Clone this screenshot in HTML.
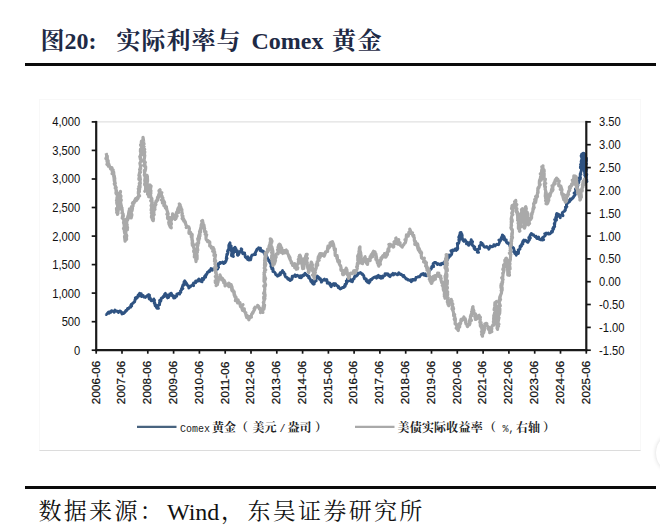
<!DOCTYPE html>
<html lang="zh-CN">
<head>
<meta charset="utf-8">
<title>图20: 实际利率与 Comex 黄金</title>
<style>
html,body{margin:0;padding:0;background:#fff;}
body{width:660px;height:526px;position:relative;overflow:hidden;font-family:"Liberation Serif","Noto Serif CJK SC",serif;}
.title{position:absolute;left:0;top:25.5px;font-size:24px;line-height:30px;font-weight:bold;color:#1e2a45;white-space:nowrap;}
.title span{position:absolute;top:0;}
.rule{position:absolute;left:25px;width:631px;height:2px;background:#0a0a0a;}
.r1{top:63px;height:2.6px;}
.r2{top:486px;height:2.6px;}
.frame{position:absolute;left:39px;top:99px;width:602px;height:352px;border:1px solid #f8f8f8;border-bottom-color:#dcdcdc;box-sizing:border-box;}
svg{position:absolute;left:0;top:0;}
.leg{position:absolute;left:0;top:421px;font-size:12px;line-height:17px;font-weight:700;color:#222;white-space:nowrap;font-family:"Liberation Mono","Noto Serif CJK SC",serif;}
.leg span{position:absolute;top:0;}
.leg .m{font-family:"Liberation Mono",monospace;font-size:10px;font-weight:normal;}
.src{position:absolute;left:0;top:496.3px;font-size:23px;line-height:32px;color:#111;white-space:nowrap;}
.src span{position:absolute;top:0;}
.src .c{letter-spacing:2.3px;}
.knob{position:absolute;left:656px;top:433px;width:40px;height:40px;border-radius:50%;background:#fff;box-shadow:0 0 4px rgba(0,0,0,.16);}
</style>
</head>
<body>
<div class="title"><span style="left:40.5px">图20:</span><span style="left:116.5px;letter-spacing:1px">实际利率与</span><span style="left:251.5px">Comex</span><span style="left:332px;letter-spacing:1.5px">黄金</span></div>
<div class="rule r1"></div>
<div class="frame"></div>
<svg width="660" height="526" viewBox="0 0 660 526">
<line x1="96.2" y1="121.9" x2="586.3" y2="121.9" stroke="#d9d9d9" stroke-width="1"/>
<polyline fill="none" stroke="#2f5382" stroke-width="2.9" stroke-linejoin="round" points="106.2,314.2 106.3,314.6 108.6,312.0 109.2,313.3 110.0,311.8 110.9,312.2 111.5,310.7 112.5,311.1 114.2,311.8 114.2,312.4 114.6,311.1 115.0,310.0 116.3,311.2 117.5,311.1 118.4,312.6 118.7,312.0 119.7,310.9 120.9,311.5 122.0,314.0 122.5,312.7 123.7,313.4 124.7,312.4 125.2,311.9 126.2,310.2 125.5,311.2 127.2,310.0 127.5,308.7 128.1,308.2 128.8,308.6 129.1,307.7 130.7,307.2 130.7,305.5 131.7,306.1 131.4,304.3 132.5,303.6 132.4,303.5 133.0,303.2 133.6,302.5 134.7,301.8 134.9,299.9 135.5,299.5 135.3,297.8 136.2,297.5 137.1,298.0 138.1,295.1 138.9,296.2 139.2,294.2 139.7,293.2 140.0,293.5 141.3,293.7 141.3,294.0 141.4,296.5 143.2,295.5 143.5,296.7 143.8,297.0 144.0,296.7 144.7,297.1 145.4,297.4 146.2,296.4 148.5,294.8 148.8,294.6 149.5,295.1 148.6,296.5 149.2,299.0 149.9,297.4 151.0,299.8 150.6,299.4 151.2,300.8 152.4,300.5 153.2,300.6 153.8,300.0 153.8,299.0 153.5,299.5 154.0,300.8 154.5,300.2 154.2,303.1 154.9,303.1 154.7,303.8 155.2,305.8 155.8,305.7 156.3,305.0 155.7,306.1 156.1,306.7 157.0,308.3 157.4,308.3 158.5,308.4 157.6,307.7 158.1,305.5 159.1,305.1 159.6,304.8 159.5,302.6 160.0,302.5 159.6,300.4 160.2,300.7 160.9,300.7 161.2,298.3 161.8,297.8 162.7,297.8 163.4,296.4 164.4,295.4 164.5,296.5 164.6,294.4 165.0,293.8 165.4,293.3 165.4,295.3 167.0,294.9 167.0,296.4 167.5,297.9 167.7,297.2 168.5,297.5 169.7,294.4 169.7,294.0 170.9,295.3 171.2,293.2 171.7,294.2 172.0,295.0 172.4,295.9 173.5,295.7 173.6,298.0 175.0,297.8 175.8,296.1 176.2,296.0 176.7,296.3 176.8,294.0 178.8,293.3 179.6,294.1 178.5,293.6 180.0,292.7 180.8,292.4 180.5,290.9 181.6,290.0 181.5,288.7 182.6,288.4 182.9,288.5 182.1,287.7 182.8,285.4 183.1,284.6 184.3,284.9 184.5,283.9 184.0,281.8 184.0,283.3 185.0,281.2 184.7,280.9 186.8,283.8 185.7,284.0 186.4,283.8 187.7,285.6 187.9,285.8 188.4,285.7 188.8,288.0 188.8,287.7 190.6,286.5 191.7,285.4 192.1,285.4 192.5,284.9 193.6,285.7 193.1,283.9 193.5,283.0 195.7,282.7 195.6,281.0 196.1,281.2 197.7,281.2 197.5,280.5 197.8,280.6 198.8,279.0 199.8,279.8 199.5,280.9 200.4,280.9 201.2,281.4 202.0,281.8 202.2,278.5 203.5,279.6 203.9,278.7 204.7,276.3 204.6,277.5 205.6,277.2 206.0,274.4 205.4,275.4 206.6,274.6 207.5,272.4 207.5,272.1 208.1,272.3 209.0,270.8 209.1,270.8 209.6,271.6 211.0,268.5 212.1,270.2 212.5,269.0 213.8,269.0 214.0,268.9 214.5,269.7 216.2,269.6 216.1,269.8 217.6,269.0 217.8,267.3 218.6,267.4 217.7,264.9 218.7,264.7 218.3,263.6 220.4,263.5 220.0,262.4 220.6,262.6 222.3,262.4 222.8,262.0 223.4,262.5 223.4,263.6 225.0,262.8 225.5,261.2 225.8,261.6 226.4,259.7 226.2,258.1 226.3,258.1 227.0,258.4 226.4,257.0 226.9,255.1 226.8,254.3 226.8,255.4 227.5,254.2 228.0,252.4 227.4,251.1 227.8,250.6 228.2,249.6 229.5,249.9 229.2,247.8 228.8,248.2 228.8,245.1 229.8,244.4 229.4,244.0 229.3,244.2 230.0,242.8 230.0,243.7 230.0,245.1 231.2,246.1 231.0,245.9 231.2,248.0 231.6,248.3 231.6,249.6 230.9,250.6 231.7,250.6 231.4,250.7 232.5,251.1 231.8,252.4 231.5,254.7 231.5,255.7 232.1,254.2 232.5,256.1 233.4,256.5 232.9,255.2 232.8,253.7 233.3,253.6 234.0,251.3 233.7,250.1 233.5,251.2 234.0,248.3 234.6,247.7 235.0,247.2 234.9,247.9 235.9,248.5 235.8,249.6 235.5,251.5 237.3,250.7 237.5,252.3 237.4,252.4 237.4,255.1 238.0,255.3 238.2,254.5 238.6,254.7 239.4,252.6 240.2,251.4 240.2,251.3 241.3,250.4 241.5,250.8 241.2,248.7 241.8,249.3 241.5,249.1 242.0,252.4 243.4,253.0 242.8,253.7 244.6,252.9 243.8,252.9 245.0,254.8 244.9,254.9 245.3,256.9 246.9,258.4 247.9,256.7 247.6,257.9 247.6,259.4 248.8,260.0 248.8,258.2 250.6,259.8 251.0,258.2 250.6,258.5 251.2,256.9 251.8,255.3 252.3,254.9 253.8,254.7 254.5,253.9 255.5,254.4 255.3,253.3 255.1,253.1 256.8,250.2 256.2,250.8 256.9,249.4 257.6,248.8 258.8,248.0 258.8,247.8 259.3,248.3 260.5,248.2 260.1,250.6 261.6,250.5 261.0,251.0 262.0,251.4 263.3,251.1 263.8,252.7 264.7,253.5 264.8,254.5 265.8,253.5 266.5,256.2 265.6,256.3 266.3,256.0 267.5,257.6 267.4,258.4 269.2,260.4 268.7,261.0 268.6,260.3 269.9,262.5 270.7,261.9 270.3,263.5 271.2,263.9 271.2,265.0 270.9,266.3 271.6,267.3 271.8,268.7 272.7,268.1 273.1,269.2 272.9,271.5 273.8,271.5 274.8,272.5 274.7,272.5 275.3,273.0 275.3,273.5 275.9,274.8 277.1,275.5 277.5,276.1 278.3,274.8 278.3,275.9 279.7,274.7 280.3,274.8 280.1,272.6 280.9,273.4 282.5,270.6 282.5,270.9 282.6,271.5 283.8,272.2 283.8,273.2 285.0,274.2 285.0,273.9 284.7,275.0 285.6,277.0 286.2,277.0 287.7,278.2 287.7,278.9 289.2,279.8 288.9,278.6 290.0,280.5 290.1,280.5 291.9,279.3 292.2,278.4 292.0,277.6 292.3,276.1 293.1,276.7 294.2,275.9 295.0,274.9 295.7,276.6 296.6,275.6 297.2,275.3 299.1,276.5 300.3,275.7 299.6,277.6 301.2,277.7 301.9,276.6 302.5,275.2 303.6,275.7 304.1,275.2 303.9,275.0 305.0,273.3 305.0,274.3 305.9,274.1 307.1,275.7 308.3,276.6 308.2,275.8 309.1,276.4 308.7,278.0 310.0,278.6 310.5,279.9 310.8,281.3 312.4,280.5 311.4,281.9 312.4,283.1 313.5,284.2 313.8,284.1 314.2,283.9 313.7,283.3 315.6,280.8 315.7,279.1 316.2,280.9 315.5,279.7 316.9,278.0 316.9,276.9 317.5,276.6 317.2,276.1 319.4,277.9 319.4,279.2 320.4,278.6 319.7,278.6 321.4,281.3 321.2,281.1 321.4,282.1 322.1,281.1 323.2,279.9 324.4,279.1 325.0,280.2 326.2,280.2 326.8,279.5 327.2,281.5 327.2,283.2 328.4,282.6 329.9,283.1 329.6,284.4 330.0,284.7 331.2,286.7 331.2,286.4 332.2,284.9 332.5,284.3 333.9,283.5 334.5,285.5 335.0,283.8 335.5,283.7 336.1,284.9 336.4,285.0 338.3,286.9 338.3,287.7 338.4,286.3 340.2,289.0 340.0,288.8 341.3,288.6 342.3,287.5 343.4,287.5 343.8,287.5 344.2,287.1 344.4,286.0 345.2,286.3 345.1,284.1 345.9,284.6 346.6,283.1 346.3,280.9 346.4,281.5 347.7,281.5 347.4,279.3 347.5,279.0 348.0,279.8 348.7,280.5 350.0,279.3 350.3,281.1 351.2,281.2 352.3,281.8 353.1,279.6 352.7,279.3 353.9,278.8 354.2,278.7 354.3,277.4 355.0,275.8 355.0,275.6 356.2,276.3 357.6,274.9 358.5,273.3 357.8,273.1 359.1,273.3 360.0,272.9 359.9,273.0 360.4,272.5 362.3,274.4 362.2,273.8 363.8,275.6 363.8,276.7 364.5,278.0 364.2,278.0 364.6,278.9 366.2,278.9 366.5,280.3 366.2,280.8 367.2,281.7 367.5,282.2 369.1,282.9 368.5,280.6 370.0,281.7 370.5,279.6 371.7,279.1 371.8,279.5 372.5,278.4 373.3,278.1 373.6,277.6 375.4,276.7 376.5,278.2 377.2,277.0 377.5,275.9 378.7,275.7 378.4,275.4 379.5,277.6 380.6,276.3 380.8,278.2 382.5,277.9 383.1,276.2 382.8,275.9 383.4,276.4 385.2,275.3 385.0,273.7 385.0,275.4 386.6,273.7 388.1,273.9 388.9,275.5 388.3,275.3 390.0,276.7 390.7,275.1 391.8,274.4 392.0,274.9 393.0,273.4 393.5,274.9 395.0,273.5 396.1,274.1 397.0,274.5 397.1,274.7 397.7,274.8 398.8,272.8 400.4,274.5 401.2,274.2 402.7,275.6 402.2,275.3 403.5,276.8 403.8,275.5 403.5,275.6 405.4,277.9 406.1,279.1 406.2,278.4 407.9,279.8 407.9,280.0 408.0,279.5 410.4,280.7 411.0,279.8 411.2,281.7 412.7,280.4 412.5,279.4 414.3,280.0 413.6,279.5 415.3,280.0 415.5,279.2 416.0,277.5 417.5,277.2 418.1,276.8 419.5,276.8 420.4,275.5 420.1,275.8 421.9,274.0 421.0,274.7 422.5,273.9 423.2,273.6 423.7,274.9 425.1,273.8 425.1,275.6 427.1,275.7 427.5,274.7 428.2,274.6 428.5,274.0 428.9,272.2 429.3,271.2 429.1,270.8 430.0,269.6 430.9,269.3 431.2,269.0 431.8,267.3 431.7,266.8 433.5,265.5 433.7,266.7 433.0,264.0 433.7,263.0 433.6,263.1 435.0,262.4 436.4,263.4 435.8,262.5 437.3,264.5 437.7,263.7 438.7,264.0 440.0,264.7 440.7,263.8 441.1,264.7 442.1,263.2 443.3,263.7 443.0,263.6 443.9,262.6 445.0,261.3 445.8,260.7 445.5,259.5 447.6,258.1 447.4,259.8 448.7,257.1 448.8,257.5 449.4,256.6 449.1,254.9 450.4,255.8 450.3,255.4 451.5,254.6 452.0,252.5 450.9,250.8 451.4,251.7 452.5,250.0 453.8,250.6 454.9,249.3 455.4,248.8 456.2,250.4 456.2,249.3 457.2,249.6 457.8,248.3 457.5,247.8 457.6,246.7 457.5,244.4 457.3,243.5 458.3,243.6 458.8,242.9 459.4,240.4 458.8,239.9 460.1,239.2 459.3,239.2 458.7,237.1 460.6,236.7 460.2,236.0 459.2,236.2 460.0,233.9 460.1,232.7 460.5,232.7 461.1,232.4 461.3,233.6 461.9,234.2 462.2,235.6 462.0,237.9 461.9,236.3 462.7,239.6 462.7,239.8 463.0,240.5 464.0,241.4 463.9,240.9 464.9,239.7 466.2,241.5 467.2,242.9 466.4,243.8 467.3,242.3 468.4,243.0 468.8,245.4 468.5,245.2 469.9,243.8 469.8,242.9 471.1,241.0 471.2,241.9 471.2,240.0 471.2,239.6 471.5,240.9 472.6,241.6 472.0,243.6 472.1,245.0 473.4,246.0 473.2,245.9 474.7,246.9 473.7,246.4 474.2,248.7 475.0,248.3 474.9,249.5 475.6,249.5 477.1,249.9 477.3,251.9 477.5,252.3 478.6,252.4 477.3,252.1 477.7,249.5 479.0,249.1 478.8,248.6 479.6,248.7 479.6,248.0 479.3,246.2 480.6,245.1 480.8,243.5 480.9,242.4 481.2,242.6 481.2,243.2 482.1,243.1 482.7,245.0 483.1,244.6 483.3,245.6 484.4,247.0 485.0,247.3 486.7,246.5 486.2,246.9 488.3,247.9 488.8,249.2 488.9,248.9 489.3,248.6 490.2,246.1 491.8,246.8 493.1,246.4 493.5,246.2 493.8,244.7 495.3,245.9 494.7,245.4 496.3,244.9 496.7,244.3 498.5,244.7 498.8,244.0 499.5,242.4 499.8,241.1 498.9,240.1 500.4,239.5 500.4,241.0 501.0,239.4 502.0,239.1 501.2,238.2 502.5,235.5 502.6,235.2 502.5,235.4 502.4,235.0 504.0,236.5 504.6,238.4 504.4,237.7 504.4,240.1 505.0,240.1 506.3,239.9 506.2,241.1 506.5,242.3 507.4,243.3 508.5,242.9 508.8,243.9 510.0,244.9 509.8,245.8 511.3,246.0 511.5,245.1 511.7,246.9 512.5,247.1 513.4,247.8 514.2,250.2 514.4,250.7 513.6,251.7 515.2,252.2 514.6,253.2 515.2,253.9 516.2,254.0 516.2,255.2 517.0,253.3 516.7,252.3 518.4,253.5 518.6,251.2 518.6,250.3 518.3,249.9 519.6,249.4 520.0,249.1 520.0,246.9 520.2,245.9 521.6,245.8 520.9,246.7 521.7,244.7 522.9,244.0 521.6,244.4 522.8,242.1 523.1,242.0 522.7,241.6 523.8,240.0 523.9,241.4 525.5,240.2 526.1,240.6 526.2,241.0 527.5,242.3 528.0,242.4 528.4,241.2 529.4,239.8 529.1,239.6 528.8,237.4 530.4,238.0 529.1,237.5 529.7,236.9 530.0,235.6 531.4,233.4 531.2,233.7 532.4,234.5 532.6,235.0 533.6,234.8 533.8,235.1 535.0,236.6 536.1,236.3 536.4,237.7 536.9,238.5 538.6,237.0 538.8,239.0 540.4,239.7 540.5,239.1 542.2,240.0 542.5,239.8 543.7,239.8 542.5,237.7 544.0,236.6 545.0,235.9 545.3,234.8 545.8,234.6 544.7,233.7 545.5,233.8 546.2,233.0 546.7,233.7 548.2,233.1 548.6,234.1 550.0,233.8 550.8,233.0 551.1,232.4 551.6,231.2 552.4,232.0 553.0,229.6 553.7,228.8 552.7,228.7 553.6,227.1 553.5,227.3 554.7,226.6 554.3,223.4 554.8,223.9 554.2,223.9 555.0,222.3 555.8,219.8 554.6,219.6 556.5,220.1 556.4,218.9 555.7,217.3 556.9,217.1 556.3,215.2 556.4,214.3 557.0,214.4 556.8,213.4 558.8,214.6 559.4,216.3 560.3,217.4 560.3,217.7 560.0,215.6 560.5,215.8 561.3,214.8 563.0,215.8 562.5,214.2 562.3,212.7 562.9,212.1 564.0,211.4 564.2,211.4 565.3,210.2 565.0,209.9 566.2,207.3 565.4,207.1 566.9,206.7 566.4,206.6 566.5,203.9 566.8,203.1 567.7,203.2 567.5,202.5 568.4,200.5 569.3,202.1 570.2,200.6 570.3,199.0 570.7,200.2 572.1,198.5 573.1,197.4 572.8,198.1 573.9,196.4 574.1,195.7 574.9,195.2 575.5,193.5 574.1,193.0 575.3,192.0 576.2,190.5 575.8,190.7 575.4,189.0 576.5,188.1 576.9,188.3 577.3,185.7 577.4,186.6 578.0,185.2 577.6,184.8 577.8,183.7 578.7,182.7 578.9,182.3 578.9,180.5 579.1,179.4 579.3,178.0 580.3,179.1 580.5,177.6 580.1,176.5 580.3,174.6 580.1,174.6 580.9,174.4 580.2,174.1 580.8,172.5 580.9,171.9 581.4,170.4 581.4,168.4 580.4,167.8 581.0,168.2 580.4,166.5 581.3,165.5 580.6,164.5 580.9,164.7 581.3,162.9 582.1,162.8 581.1,161.7 581.7,159.5 582.1,159.2 582.1,157.9 581.4,157.3 582.3,155.9 582.0,155.9 581.1,155.8 582.0,154.0 581.6,154.4 581.6,156.6 582.0,156.4 581.9,156.6 582.3,157.1 583.2,159.6 582.0,161.3 581.7,162.2 582.5,161.0 582.7,163.2 582.4,162.4 582.4,164.5 583.1,166.1 582.6,165.2 583.3,167.6 582.8,168.2 583.3,168.3 583.5,165.9 583.1,165.6 583.4,164.6 582.9,164.0 582.9,163.3 583.9,162.2 582.5,160.8 582.7,160.8 582.4,158.1 583.1,157.8 582.7,157.9 583.9,155.8 583.3,154.0 583.9,153.4 583.5,153.2 582.8,153.4 583.9,154.4 582.8,155.1 582.8,156.3 584.1,158.4 583.4,158.8 584.1,158.4 583.9,159.8 583.3,162.6 583.7,162.7 583.7,163.2 583.9,164.6 584.5,163.7 583.7,165.1 584.2,166.6 583.3,168.2 584.3,168.2 583.6,169.3 585.0,171.0 584.2,171.5 584.2,171.6 584.7,171.0 584.2,169.7 584.0,169.1 584.0,168.6 585.0,168.5 583.6,166.0 585.0,164.3 583.8,164.5 585.0,162.6 585.3,162.1 584.8,161.6 584.9,160.6 584.2,159.2 583.9,158.2 585.6,158.4 585.4,156.1 584.1,155.9 584.5,154.3 584.8,154.2 584.7,155.5 585.5,155.5 585.3,157.5 585.3,157.5 585.4,159.6 585.7,159.1 584.2,160.7 584.6,162.8 584.4,163.7 585.0,162.4 585.3,164.5 584.8,165.7 585.0,166.9 585.2,166.2 585.1,167.6 584.6,168.0 585.4,169.1 584.9,169.4 585.8,171.3 585.2,171.5 585.0,174.1 584.7,175.4 584.8,175.1 585.2,175.8 585.7,174.0 585.9,174.6 584.7,173.2 586.1,172.8 584.9,171.6 586.0,170.7 585.6,170.5 584.6,169.4 584.6,167.0 585.5,166.9 586.1,164.8 586.0,165.3 586.1,165.5 585.9,164.0 586.1,162.6 585.3,162.3 585.1,161.5 586.5,159.9 586.5,158.2 585.8,158.0 585.2,159.5 585.4,158.6 586.5,160.9 585.9,161.7 585.8,162.1 586.5,163.9 586.2,163.8 585.4,164.7 585.7,164.8 585.9,167.2 586.4,167.6 586.2,168.5 586.7,169.7 585.8,170.0 585.5,172.0 585.6,173.0 586.0,172.2 585.6,174.2 586.8,174.3 586.3,175.8 586.0,176.5 585.4,177.0 586.3,179.3 585.8,178.8 585.2,180.4 586.9,181.4 586.0,182.2 585.3,181.0 586.2,180.4 586.7,179.9 585.4,177.9 586.2,178.8 586.3,177.8 586.3,176.9 586.4,175.6 586.6,175.3 586.0,174.5 585.7,171.6 586.3,171.4 586.2,171.1 586.1,171.0 586.3,167.6 586.3,168.0"/>
<polyline fill="none" stroke="#a9a9a9" stroke-width="3.2" stroke-linejoin="round" points="106.2,153.1 106.8,156.2 106.4,154.5 106.8,156.2 105.9,158.6 107.3,156.2 107.3,158.9 106.8,157.9 107.0,161.4 108.2,160.6 106.9,164.4 108.2,161.3 108.3,166.2 108.7,163.8 108.7,163.8 109.6,166.4 110.0,167.0 110.0,167.1 110.6,168.9 112.0,167.7 112.1,170.9 113.2,170.0 112.1,173.8 113.7,172.2 113.8,174.1 113.7,176.5 114.2,176.9 114.2,175.5 114.8,178.9 114.4,178.1 113.9,176.9 114.3,181.1 114.6,179.2 114.9,182.4 114.6,181.9 115.3,183.3 114.7,184.2 115.0,185.0 114.3,183.8 116.2,187.7 115.2,188.1 115.6,187.1 116.2,191.6 116.5,190.5 116.0,190.1 116.3,194.1 115.9,192.9 117.3,194.1 117.1,192.6 117.4,197.1 117.4,197.7 117.0,197.5 116.9,198.7 117.7,197.4 116.5,200.6 117.1,201.2 116.9,201.5 117.4,203.2 117.1,204.4 116.7,202.8 117.4,204.4 117.8,208.3 117.9,208.9 117.9,207.5 116.6,210.2 116.5,208.3 116.9,212.4 117.6,210.5 116.7,212.5 117.5,212.6 117.5,214.4 118.0,213.1 117.4,213.0 116.9,212.2 117.8,210.9 117.3,209.1 118.1,211.4 118.4,207.4 117.4,209.2 117.8,204.8 117.9,207.0 118.9,206.0 118.2,204.4 119.3,205.4 118.4,202.5 118.8,202.2 118.8,200.9 118.4,200.3 120.1,197.9 119.1,199.6 119.2,198.6 120.0,198.0 119.3,194.8 120.5,192.1 120.5,191.4 120.0,193.3 119.5,193.7 121.0,196.0 120.2,196.2 120.0,195.6 120.6,195.8 119.8,197.7 120.8,197.2 120.5,199.0 121.3,200.0 119.8,203.5 120.4,201.3 121.3,205.7 120.3,203.8 121.5,206.2 120.7,208.2 121.4,208.9 122.0,208.1 121.6,207.9 121.2,209.3 122.2,209.5 122.2,210.6 122.5,213.2 121.9,213.1 123.0,213.6 123.4,215.9 122.2,218.1 122.4,217.5 122.5,216.2 124.0,220.7 123.8,220.6 124.0,220.2 123.7,223.1 123.5,223.0 123.6,221.8 124.3,226.3 124.2,227.3 124.8,225.4 123.5,228.7 123.7,228.9 125.2,227.4 124.2,228.0 124.6,233.1 124.2,230.1 125.3,231.6 125.7,231.9 125.9,234.0 124.7,237.3 125.1,235.3 125.5,235.5 124.5,236.2 125.1,241.2 125.5,240.2 125.3,238.9 126.4,236.3 126.6,239.3 125.4,234.7 126.8,236.0 126.4,234.7 125.7,234.3 125.9,232.9 125.6,230.7 127.3,229.9 126.8,229.8 127.4,229.7 126.3,227.7 126.4,226.5 127.6,227.9 126.7,224.6 127.2,224.7 126.7,224.1 126.8,220.6 127.4,219.9 126.6,219.0 127.5,220.2 128.2,218.2 128.5,218.2 128.0,215.8 127.5,217.7 127.8,217.4 129.5,215.8 128.4,215.1 129.0,211.0 128.8,213.7 128.7,212.6 129.5,210.7 129.4,208.8 130.4,213.4 130.7,214.3 130.6,214.4 130.4,212.8 131.1,213.5 130.4,216.6 131.9,214.8 131.2,218.0 131.4,216.8 131.4,217.3 131.3,214.4 130.8,212.9 131.6,213.7 131.1,212.5 131.3,210.7 131.6,208.8 132.0,211.0 132.5,208.2 131.5,206.6 132.5,207.0 132.5,206.7 133.1,206.0 132.8,203.1 132.4,203.3 133.0,202.3 134.4,202.3 133.9,203.3 134.1,201.6 135.6,198.6 136.2,200.7 137.1,197.7 136.7,200.0 138.1,198.3 138.3,196.1 138.5,196.9 138.8,195.6 139.6,195.9 138.3,193.5 138.4,191.2 139.4,191.7 139.3,188.6 138.7,190.6 138.5,188.8 138.3,188.9 139.7,189.1 138.8,186.6 140.1,187.0 139.8,182.7 139.6,184.9 139.3,183.4 140.3,183.5 140.0,180.2 138.9,179.5 138.9,178.2 140.4,179.8 139.8,175.5 139.0,175.8 139.3,174.5 138.9,175.6 139.7,172.2 140.1,170.6 140.5,172.3 139.6,169.6 140.0,170.1 140.2,168.1 140.4,167.1 140.7,168.6 140.3,168.5 140.9,165.5 140.4,165.8 139.9,163.2 140.9,161.1 140.8,160.3 141.3,161.3 141.3,161.3 140.5,157.7 140.2,158.7 140.4,157.5 139.8,156.7 140.6,155.5 140.6,154.0 141.1,155.2 141.1,153.0 140.4,151.6 140.5,149.1 141.7,150.8 141.0,150.9 141.0,150.7 141.0,149.2 142.0,147.9 140.6,145.0 141.2,145.2 141.2,144.3 141.4,141.1 141.7,142.2 142.2,143.3 142.9,141.9 142.4,141.1 142.9,140.2 143.0,139.0 143.0,137.3 143.3,139.0 143.6,141.2 143.7,141.8 143.5,142.5 142.9,141.4 144.1,143.9 142.9,144.1 143.5,146.2 142.8,145.5 144.1,146.6 143.5,147.2 143.0,149.1 144.7,149.3 143.8,151.1 144.2,152.0 143.6,150.8 143.7,154.7 144.8,152.0 144.1,154.9 144.8,155.7 144.7,155.1 144.5,157.9 144.1,159.8 144.1,159.8 144.0,160.5 145.3,162.4 144.1,161.3 145.0,165.0 143.8,165.3 144.9,166.5 144.6,164.8 145.3,167.7 145.0,166.1 145.7,166.9 145.6,169.0 145.1,171.1 145.0,170.0 144.3,170.4 144.7,173.8 144.5,174.9 145.4,175.6 144.3,174.7 145.1,176.0 144.5,175.6 145.3,176.3 144.7,180.9 145.6,178.0 146.1,182.4 145.0,182.4 144.6,184.3 144.6,184.5 145.3,184.1 144.8,184.9 146.0,185.2 145.6,187.1 145.8,186.9 145.6,188.3 145.5,190.7 144.8,191.3 146.3,189.5 145.6,186.6 146.6,186.8 146.6,185.1 145.4,185.8 145.2,185.6 146.5,181.4 146.1,180.1 146.3,179.5 147.2,181.8 145.8,177.4 145.8,180.0 146.0,176.7 146.0,175.0 147.4,176.5 147.0,175.3 147.4,177.4 147.4,176.3 147.5,179.8 146.5,177.5 147.5,181.4 147.6,179.7 147.5,181.6 147.3,180.3 147.1,182.7 147.6,185.7 148.2,185.6 148.2,186.9 147.5,187.8 147.4,189.7 148.7,190.3 147.3,190.9 148.8,188.5 148.0,191.1 147.5,194.2 148.3,193.1 148.3,192.3 149.2,195.7 148.7,193.6 149.2,194.8 148.8,196.8 148.7,194.6 148.7,196.7 149.7,193.2 149.9,195.3 149.2,192.2 149.6,191.0 149.3,190.5 150.6,191.6 149.2,189.8 149.9,189.2 150.5,189.8 150.6,188.3 151.1,186.0 150.5,185.6 149.9,185.0 150.6,186.2 150.4,185.9 149.9,188.9 151.0,190.9 150.4,189.6 150.5,190.6 150.9,193.3 150.3,193.2 150.7,195.8 150.3,194.1 151.1,197.9 151.9,198.5 151.8,199.6 152.0,200.3 150.7,200.7 151.5,200.4 151.9,203.3 151.9,202.9 152.3,202.3 151.4,204.5 152.5,204.6 151.1,205.8 152.1,205.0 152.5,207.7 151.7,206.9 151.1,210.2 152.0,208.4 151.3,210.0 152.3,210.9 151.3,212.9 152.8,211.8 151.6,215.2 151.4,217.1 152.9,215.8 152.0,218.2 152.6,219.9 153.2,220.7 152.5,219.9 152.7,219.9 153.3,220.2 153.5,218.3 152.7,218.7 153.7,214.3 153.4,215.9 153.4,213.8 154.2,214.6 153.0,212.4 153.9,212.7 153.8,208.9 153.4,210.3 154.1,206.9 155.0,209.4 154.8,208.8 154.9,206.2 155.0,205.0 155.9,204.4 155.4,205.3 155.5,203.1 156.1,200.8 156.5,201.2 156.1,202.1 157.8,199.8 157.3,199.4 157.5,197.3 158.6,196.2 158.4,197.6 159.1,196.8 158.4,195.7 159.4,193.2 159.6,191.9 159.2,191.6 159.0,190.6 160.0,189.7 159.4,190.5 160.0,190.4 160.8,194.3 161.8,192.7 161.2,193.5 161.7,196.5 162.1,196.1 162.2,197.2 162.9,198.1 161.5,200.0 162.5,199.3 162.4,202.9 162.9,199.6 164.6,202.4 164.6,202.9 163.8,205.6 165.0,205.2 165.4,208.0 165.3,206.8 166.7,209.5 166.2,206.6 166.7,208.8 166.2,208.3 166.9,209.9 167.9,213.0 167.5,213.0 166.9,214.2 168.2,213.8 168.0,214.2 167.5,217.8 167.7,218.5 169.3,217.3 168.8,217.4 169.6,219.2 168.7,222.6 170.0,221.3 168.9,222.4 169.3,224.2 168.9,223.9 170.3,227.0 171.0,227.6 170.4,225.6 170.5,227.4 171.3,227.8 170.4,224.5 170.8,225.7 170.5,222.3 171.4,223.3 171.4,224.2 170.9,221.7 171.2,220.0 171.4,220.3 171.7,217.3 171.8,217.5 171.6,217.3 172.7,217.6 172.5,215.1 172.6,213.9 173.6,217.5 174.5,218.9 174.2,217.5 173.9,218.4 175.0,219.4 174.5,218.1 175.9,218.5 176.2,217.8 175.6,215.5 177.1,216.1 175.8,214.7 176.6,212.1 176.5,213.8 177.5,212.0 178.7,212.5 178.2,210.1 177.5,210.1 178.0,208.4 179.4,207.2 178.3,208.3 179.8,204.8 179.4,204.1 180.0,204.6 179.3,203.9 180.2,205.2 180.8,209.6 181.0,207.4 180.9,208.5 181.9,209.6 181.8,210.6 182.0,212.8 182.3,213.5 182.1,213.5 182.0,215.4 182.2,216.0 183.0,216.1 182.5,217.7 182.1,218.5 182.7,219.2 183.6,218.7 183.7,221.0 184.6,220.7 184.8,222.4 185.2,221.6 185.9,224.8 186.2,225.1 187.1,227.3 186.2,227.5 187.8,226.7 188.7,226.8 189.0,227.6 189.4,228.8 188.9,232.4 189.0,233.4 190.0,233.1 190.2,232.8 190.7,232.5 191.1,234.0 191.3,237.2 192.2,234.5 191.9,239.3 192.1,237.8 192.1,240.9 192.5,240.5 192.5,241.3 192.6,243.7 192.1,243.1 192.3,243.4 192.3,245.3 192.7,243.2 193.5,244.5 193.3,246.4 194.5,250.0 194.5,249.4 193.6,251.0 193.8,251.9 194.1,251.6 195.0,250.7 194.4,255.0 194.6,255.7 195.9,255.6 194.3,256.9 195.0,256.3 196.0,256.6 195.9,258.1 195.7,259.8 196.2,258.2 196.0,261.7 196.3,258.6 195.9,259.1 197.1,259.2 197.1,255.2 197.0,255.9 196.9,254.1 196.3,252.8 197.0,255.8 196.7,254.0 196.9,251.7 197.4,252.2 196.9,248.7 197.3,249.3 197.8,250.1 197.1,245.8 196.5,244.7 196.9,243.6 197.9,245.7 197.3,245.0 198.6,241.2 198.6,243.3 197.7,238.8 198.0,240.2 198.9,240.1 198.2,238.3 199.1,235.1 199.5,238.5 198.6,236.2 199.6,233.4 200.1,235.6 199.6,231.3 199.5,231.9 200.6,232.2 200.0,230.4 200.6,230.0 200.5,228.9 201.2,226.2 201.2,224.7 201.2,225.0 201.3,225.2 201.1,225.7 202.6,220.6 201.6,221.0 202.4,220.5 202.5,220.9 202.4,221.8 202.8,222.0 202.9,222.7 203.0,222.2 202.9,224.1 203.3,226.8 203.9,224.8 204.5,228.8 204.6,228.7 203.7,228.4 204.5,229.6 204.4,230.2 204.4,231.5 204.8,230.9 206.0,232.0 205.2,234.3 206.7,234.7 206.3,236.2 206.0,236.2 206.0,238.1 206.2,239.6 207.0,240.3 207.5,240.3 207.3,241.2 207.7,241.7 208.8,241.1 209.8,242.1 209.7,245.9 210.0,246.0 210.7,246.2 210.8,246.2 211.5,248.2 212.5,247.4 213.3,247.5 213.2,249.7 212.7,251.3 214.0,249.2 214.2,251.2 214.1,255.0 214.7,252.1 213.9,255.4 214.6,254.4 215.5,254.9 215.0,257.9 214.8,259.8 214.4,261.1 214.7,261.1 214.5,258.9 215.7,260.6 215.2,262.3 214.9,264.2 215.6,265.2 215.4,267.3 216.2,267.9 215.3,268.4 214.8,267.1 214.9,270.5 215.5,270.2 215.1,268.8 215.7,273.1 216.4,274.4 216.0,271.7 215.6,272.3 216.6,275.0 215.3,276.5 215.9,277.1 215.7,276.6 216.8,280.5 215.2,280.9 216.0,282.4 215.5,282.9 216.9,280.8 215.3,282.3 217.1,284.1 216.2,285.6 217.5,283.7 217.5,284.6 217.0,283.1 217.4,283.5 217.9,282.7 218.1,281.8 218.6,278.8 218.1,277.5 219.7,277.9 220.0,275.7 220.2,277.1 220.0,274.9 221.0,278.0 220.3,276.9 220.6,277.6 221.6,279.8 222.5,278.3 223.0,280.2 223.6,280.3 223.7,282.7 224.9,281.9 224.2,280.5 224.8,282.7 225.1,286.0 226.2,284.3 227.1,284.2 228.8,286.4 228.9,286.5 228.8,283.0 231.0,285.6 231.2,284.6 231.6,287.9 232.0,287.0 231.4,285.6 231.8,290.3 232.1,287.3 232.3,291.0 232.6,289.6 233.7,291.6 234.2,291.6 234.3,295.4 233.7,292.3 234.9,296.9 234.4,294.2 235.2,296.1 235.0,296.7 236.1,297.4 235.4,300.6 237.2,300.0 237.4,301.9 237.6,303.0 238.1,299.9 238.7,302.7 240.0,302.6 239.6,302.4 240.5,306.6 241.7,307.4 242.4,304.9 243.0,304.7 242.1,305.6 242.0,308.7 242.6,310.4 243.8,310.6 244.3,308.8 244.3,310.4 244.9,312.4 245.8,312.8 245.4,312.7 246.1,315.7 246.8,317.6 246.5,316.4 247.1,315.3 248.6,318.7 248.8,319.8 249.6,317.9 248.9,316.7 250.5,316.2 251.4,317.1 251.2,316.4 251.6,314.3 252.4,313.2 252.5,312.6 252.8,313.2 253.9,310.7 253.8,310.8 254.7,309.4 254.1,308.8 255.0,307.2 255.1,307.6 257.6,306.7 257.7,305.4 258.8,306.6 259.5,309.0 259.3,308.6 260.1,308.7 260.7,309.2 261.0,308.6 260.5,312.7 261.2,311.6 261.9,311.1 262.9,312.4 261.9,309.1 264.0,308.0 263.6,309.3 264.0,306.5 263.9,309.2 264.6,305.1 263.2,306.3 263.8,305.6 263.6,303.9 263.8,301.8 263.9,301.9 263.3,302.5 264.9,298.6 264.3,299.5 263.7,298.7 263.7,296.8 265.1,294.8 265.0,296.5 264.7,292.3 264.4,292.8 263.6,293.5 264.6,291.2 264.6,292.6 264.6,289.7 264.8,289.6 264.7,287.3 263.8,286.3 263.9,285.6 264.7,285.5 265.2,286.3 265.6,284.8 264.5,281.8 264.1,280.8 264.8,281.1 265.6,278.5 264.0,281.4 264.1,276.2 265.5,278.5 264.0,274.7 264.6,275.9 264.0,272.7 264.4,272.6 265.0,272.1 264.5,271.0 265.7,269.9 265.1,269.2 264.7,269.2 264.2,268.1 265.3,266.2 264.6,267.9 265.8,264.4 265.6,263.2 264.5,265.7 264.5,264.6 264.8,260.3 265.4,260.7 265.7,260.2 264.5,260.3 265.7,257.4 266.1,256.1 264.8,258.3 265.3,255.6 265.5,254.1 265.1,253.3 265.8,252.5 266.6,252.1 267.0,252.7 267.5,251.9 267.5,251.9 267.5,249.2 269.0,250.1 268.9,249.6 269.0,246.3 269.8,244.2 269.6,246.9 270.6,246.2 269.9,244.6 270.1,242.4 270.6,241.3 270.3,238.8 271.2,239.4 272.0,241.2 270.7,242.7 271.7,242.5 270.7,242.0 271.1,245.0 271.0,246.0 271.3,247.8 271.8,246.8 272.6,249.7 272.2,250.4 271.4,247.9 272.9,250.9 271.5,252.6 273.0,251.9 272.9,253.4 272.8,255.9 272.6,255.7 271.7,255.4 271.6,258.9 272.7,256.8 272.0,260.8 273.3,258.5 272.5,259.8 271.9,260.8 273.2,264.3 272.1,261.0 272.7,262.5 273.0,265.7 272.9,262.6 273.7,262.5 274.2,264.3 274.5,263.4 275.5,260.5 275.1,260.4 275.3,259.2 275.1,258.0 276.2,257.0 275.8,257.8 276.1,254.4 276.1,254.2 277.4,253.3 278.1,253.8 277.9,250.3 277.6,249.9 278.7,250.7 279.2,250.2 278.2,246.5 278.0,247.6 278.8,244.8 278.6,246.2 279.5,244.2 280.3,245.0 281.1,247.0 281.2,248.0 280.8,248.7 280.4,248.8 281.8,248.1 281.0,252.4 281.9,250.3 282.5,252.2 282.8,253.5 284.0,250.6 284.4,253.0 284.7,251.1 286.2,249.9 286.1,252.7 287.2,251.0 287.3,252.8 287.8,253.8 287.5,253.4 288.2,254.5 289.1,256.1 288.7,256.2 289.9,259.0 289.8,257.2 290.1,258.1 290.0,259.2 290.7,260.7 291.8,262.3 291.7,263.4 291.3,262.8 292.8,263.8 292.6,265.4 293.8,265.2 294.7,263.7 294.7,267.7 295.7,267.7 295.2,266.6 296.2,269.3 297.0,268.2 297.8,267.6 297.5,269.0 297.0,268.2 296.9,265.3 298.6,263.3 298.4,261.7 299.2,262.8 297.8,264.0 299.6,260.0 298.3,259.4 299.3,261.1 299.3,257.6 299.4,257.3 299.0,256.9 300.6,256.4 300.0,255.2 299.8,257.2 299.5,255.3 300.0,259.8 301.1,258.0 301.3,260.5 301.9,260.1 302.1,261.0 302.1,260.2 301.7,261.3 301.6,263.7 303.0,264.6 302.0,263.7 302.7,268.7 303.0,267.3 303.7,268.4 303.6,264.3 304.2,263.4 304.5,264.2 304.9,261.1 305.0,261.0 305.3,261.0 304.1,258.6 305.9,259.3 305.3,258.4 305.6,256.2 306.5,256.5 306.0,257.0 306.2,254.4 307.2,254.3 306.0,257.2 306.1,259.0 307.4,258.3 306.2,257.6 306.4,258.3 306.8,260.6 306.4,261.0 307.3,262.8 307.1,264.8 307.3,265.0 307.2,266.6 307.8,266.3 308.1,267.1 307.8,268.3 309.1,270.4 308.6,270.1 308.2,271.7 308.6,272.0 308.8,272.5 309.0,271.1 308.7,269.4 309.6,268.5 310.2,267.7 310.4,269.7 310.9,266.3 310.1,265.5 310.9,265.6 311.3,263.9 310.6,265.0 311.2,262.0 311.8,262.9 311.0,265.0 312.4,264.7 312.0,268.1 312.6,268.1 311.4,266.6 312.1,269.2 312.1,270.5 313.1,270.2 312.6,269.5 312.9,270.7 313.9,274.1 312.5,275.1 313.4,274.6 313.8,276.3 314.4,278.7 313.8,277.0 314.8,275.1 315.0,274.2 314.6,273.2 314.0,272.3 315.4,272.4 314.7,273.1 315.0,269.7 315.0,269.0 315.7,269.5 315.2,270.5 316.3,267.9 316.1,265.3 317.3,264.4 316.1,264.5 317.1,264.2 317.7,265.1 317.5,262.0 316.9,263.4 317.2,261.6 317.7,261.3 319.1,260.3 318.0,259.3 318.3,256.8 320.1,257.3 319.8,255.6 319.1,255.4 320.0,253.5 321.2,253.6 321.3,254.4 321.7,255.5 322.5,253.8 323.8,255.4 324.1,256.2 324.7,255.1 325.6,251.8 324.5,254.3 326.3,251.8 326.9,250.9 327.0,251.3 327.6,251.4 327.5,248.9 328.0,246.1 328.7,248.2 328.9,247.0 329.3,247.5 330.2,245.9 330.0,243.0 331.0,242.3 331.1,243.1 332.5,241.7 333.6,244.6 333.0,243.9 332.6,245.5 333.9,246.0 334.1,248.6 334.0,247.7 334.5,250.1 335.1,249.1 335.0,249.9 335.4,249.0 335.2,253.4 335.0,251.0 335.2,255.4 335.4,255.2 337.1,255.5 336.2,255.2 337.0,257.8 336.9,258.4 337.4,257.1 337.5,259.6 337.8,261.4 339.2,260.6 339.6,261.7 339.2,263.2 339.0,263.1 340.0,265.4 340.4,265.7 340.5,265.4 341.2,268.3 340.8,269.2 341.4,270.2 341.7,270.2 341.0,270.3 342.9,270.5 342.8,274.6 342.5,273.3 343.6,274.5 343.2,272.5 345.0,269.9 345.3,273.1 345.6,269.9 345.8,271.3 346.2,268.1 346.6,271.7 347.0,271.7 346.9,269.5 346.8,270.1 347.8,275.2 347.1,274.3 348.2,275.7 348.6,276.4 348.4,278.5 348.8,277.7 349.5,277.0 349.4,277.0 349.9,273.7 351.3,273.0 352.4,273.5 352.5,273.2 353.9,271.7 353.7,270.9 354.9,273.1 354.8,270.7 356.2,271.4 357.0,269.3 357.3,268.5 356.9,266.5 356.7,266.8 357.5,266.6 357.5,264.7 357.4,263.1 357.2,265.8 357.2,265.0 358.3,262.0 358.3,263.9 358.7,259.7 358.0,259.8 357.8,260.7 357.8,257.0 359.2,258.2 357.7,256.5 359.3,256.3 357.7,255.9 359.2,252.9 359.8,253.7 359.5,253.7 358.9,251.9 359.7,248.1 359.9,249.1 360.0,246.8 359.5,247.8 360.0,250.1 359.7,249.0 359.3,248.4 359.3,251.4 360.3,251.3 360.8,253.2 360.3,253.4 360.8,254.2 361.2,256.0 359.9,254.7 360.8,256.3 360.2,258.7 361.0,258.0 361.5,258.8 361.6,259.0 361.5,260.1 361.2,263.0 362.5,263.7 362.6,259.0 363.3,262.2 363.8,259.4 364.5,258.0 365.3,257.8 365.0,256.7 364.7,258.8 366.6,260.5 366.7,260.1 365.6,259.9 366.6,263.3 367.5,261.0 367.5,264.5 368.0,261.1 367.4,261.5 367.7,259.5 368.5,259.7 369.4,259.9 370.2,260.5 370.1,256.7 369.8,259.0 371.4,257.0 371.3,256.4 371.2,254.7 372.6,256.7 372.4,253.2 373.5,251.3 374.8,254.6 375.0,251.9 374.6,252.2 374.9,253.2 375.8,253.6 376.6,257.8 375.8,257.3 375.9,259.5 376.1,256.5 377.2,260.7 376.6,259.4 377.4,261.7 377.5,263.2 377.0,261.0 378.1,262.5 378.4,265.5 379.3,263.2 378.8,266.2 378.5,265.6 378.9,263.5 380.4,264.2 379.7,261.9 379.5,261.1 381.1,259.1 380.1,262.5 381.2,257.7 381.1,257.9 381.3,259.5 382.9,255.7 382.5,256.5 383.6,256.9 385.0,253.7 384.5,253.6 386.4,255.3 385.8,257.2 387.5,254.4 387.1,252.0 387.2,255.0 387.6,252.4 388.0,249.2 388.7,249.4 388.9,251.2 388.7,248.8 389.3,246.3 390.3,246.4 388.9,244.6 390.0,244.2 390.4,244.5 392.6,245.2 393.0,246.9 393.8,246.8 393.2,247.1 393.6,245.4 394.4,243.4 394.0,241.9 395.5,240.7 396.2,243.3 395.8,238.3 396.0,238.2 396.2,238.8 396.0,238.0 396.4,240.2 398.4,242.6 398.7,239.7 397.8,244.1 399.0,243.8 400.1,242.8 400.0,245.1 401.7,246.4 402.2,247.1 402.0,246.6 403.8,244.7 404.0,244.1 404.9,242.8 405.2,242.9 405.7,241.4 406.0,240.2 405.2,240.3 405.0,239.7 406.2,239.2 406.2,238.0 406.5,234.8 406.3,236.2 408.2,236.2 408.4,234.7 408.3,235.3 409.4,232.6 408.8,232.4 410.1,231.2 410.0,230.6 409.8,229.2 411.2,232.5 411.2,233.5 412.5,232.8 411.7,233.1 411.8,232.9 413.2,236.4 413.8,235.4 413.8,236.9 414.3,237.8 414.3,240.4 414.6,241.4 415.6,241.6 415.4,241.9 414.8,244.4 415.1,241.2 416.3,243.3 416.9,245.5 417.5,243.7 418.0,245.5 417.5,247.2 418.3,249.9 418.4,247.1 419.6,249.5 419.0,249.7 418.7,250.2 420.2,252.7 421.0,251.8 421.6,252.9 421.2,255.3 421.6,257.9 422.3,258.2 422.3,258.4 422.5,258.4 424.1,258.4 424.3,258.1 423.6,261.9 425.2,261.4 425.0,262.5 425.3,263.4 426.5,262.7 425.6,266.1 426.6,265.2 426.7,268.3 426.6,266.6 427.9,268.5 427.0,270.1 428.1,267.9 428.8,269.8 429.3,270.2 428.8,273.0 428.1,272.3 428.5,275.7 429.2,273.7 428.9,274.7 430.2,277.3 429.3,279.2 430.3,276.9 430.0,280.8 430.1,281.1 431.7,283.3 431.2,283.3 431.0,281.2 432.1,282.3 432.5,279.5 433.5,280.3 433.2,278.3 433.3,276.3 435.4,279.1 435.0,275.5 436.6,276.2 437.3,275.6 437.6,273.2 437.3,275.8 438.8,273.2 438.6,276.5 440.2,275.9 440.3,277.1 440.7,276.0 440.3,276.1 441.2,278.5 440.4,277.3 440.9,279.5 441.7,282.7 442.0,282.1 442.5,283.1 443.4,285.3 443.0,282.4 443.7,286.4 443.0,286.3 442.3,285.5 443.0,285.7 443.4,289.6 443.3,289.7 444.6,292.5 443.8,290.3 443.9,290.5 444.7,292.0 444.7,293.1 444.9,292.8 444.3,296.3 445.5,297.8 445.0,298.2 444.9,297.5 445.5,296.1 445.8,294.0 445.5,295.1 444.3,294.1 445.1,293.5 445.5,292.0 445.6,289.9 446.1,290.9 446.0,286.3 445.5,288.8 445.0,287.8 444.5,285.3 445.9,286.7 445.6,284.0 444.8,284.5 445.9,282.4 446.3,281.6 445.8,279.2 445.3,280.6 445.4,280.4 445.0,276.1 446.5,276.2 446.4,277.6 445.7,275.6 445.9,274.6 445.5,275.1 446.2,271.7 446.2,272.6 446.0,268.9 445.4,268.5 445.0,267.5 446.2,266.0 445.2,268.1 445.9,267.8 445.1,266.2 446.6,262.2 445.2,261.4 445.2,262.9 446.6,261.0 446.7,258.7 447.0,261.3 446.7,259.1 446.3,256.2 446.9,258.5 446.8,254.5 446.2,254.8 446.8,256.0 446.0,257.5 447.1,259.3 445.5,260.0 446.5,257.4 445.6,258.7 445.5,263.0 446.0,261.3 447.2,265.0 446.3,265.3 447.3,263.3 446.7,264.6 446.5,268.0 447.3,269.4 446.9,268.0 446.4,267.7 446.1,271.1 447.0,270.7 447.3,270.9 446.1,271.5 446.1,274.5 446.3,276.4 446.9,274.2 446.9,276.4 445.8,275.9 446.7,277.6 446.2,278.1 446.2,281.8 447.4,280.6 447.2,284.3 447.2,281.5 447.3,282.1 446.3,283.9 446.1,285.4 447.4,287.4 447.4,288.3 446.4,287.0 446.5,290.8 447.0,291.4 446.4,289.6 447.6,293.9 446.0,293.4 447.7,291.8 447.3,296.1 447.7,294.6 447.3,294.7 447.0,297.8 447.8,297.8 448.2,297.8 447.3,301.9 448.3,300.1 448.1,301.0 449.0,303.3 448.0,304.5 447.8,303.5 448.8,305.5 448.7,305.7 449.3,303.2 449.2,301.5 451.2,302.1 451.3,299.4 451.2,300.5 452.0,301.0 451.8,301.4 451.1,300.7 452.5,303.9 452.8,304.2 452.1,305.2 453.1,307.3 452.8,308.7 452.4,306.6 452.0,308.9 453.6,308.7 453.5,309.3 452.7,310.4 453.2,311.4 453.4,312.1 454.0,315.8 453.6,314.8 454.7,314.7 453.7,315.8 454.8,316.9 455.3,320.2 454.2,319.1 455.0,320.7 455.4,318.9 455.1,323.9 455.3,322.8 455.2,323.3 456.5,325.1 455.5,323.8 456.3,325.2 457.2,327.0 456.2,328.3 457.2,327.0 457.5,329.4 458.3,330.5 458.3,329.7 459.0,326.2 458.1,325.7 458.9,323.8 459.7,327.0 459.5,324.9 460.7,323.1 460.0,324.7 460.6,322.1 461.0,319.5 461.2,319.3 461.7,320.7 463.0,319.4 463.9,317.0 463.8,318.4 463.3,318.3 464.7,319.8 465.2,318.8 464.6,319.9 465.5,319.8 466.0,323.6 465.6,322.5 465.7,322.2 466.0,323.9 466.7,323.8 467.2,324.5 467.5,326.6 467.2,326.1 468.7,324.3 469.3,323.1 469.4,325.0 470.0,323.5 470.0,322.0 469.3,321.2 470.2,318.6 471.4,320.4 469.9,320.5 470.7,319.9 470.4,316.8 471.1,314.5 472.0,315.6 471.0,315.3 472.3,314.1 471.6,311.7 473.0,310.8 472.5,309.5 472.9,309.5 472.1,309.3 472.9,310.0 473.0,306.7 472.6,307.2 472.9,308.5 473.9,310.8 473.5,310.6 473.9,312.6 475.0,314.0 475.4,314.7 475.5,313.8 475.7,315.1 474.9,316.9 476.2,316.4 475.2,318.1 475.4,319.5 476.2,319.2 477.4,318.3 478.2,317.5 477.8,316.1 479.1,315.3 479.9,317.4 480.0,316.8 480.0,318.9 480.4,317.4 479.8,318.9 480.3,319.5 479.8,322.4 481.1,322.6 481.0,324.3 480.3,324.3 480.3,325.9 480.5,325.7 481.6,324.9 481.8,326.5 480.8,326.6 481.7,328.1 482.4,331.0 482.7,330.0 481.5,331.7 482.5,332.3 481.6,334.4 482.5,336.2 482.5,334.1 483.3,333.2 482.7,331.4 482.6,333.3 483.7,332.6 484.3,329.8 483.4,328.1 484.4,330.3 484.3,327.1 484.2,329.0 485.0,324.8 485.6,324.5 484.9,323.9 486.6,324.7 486.8,323.5 486.2,323.4 486.7,324.4 486.2,323.5 486.7,325.0 487.5,326.0 488.1,326.7 489.1,327.5 487.9,328.3 489.4,330.6 489.2,329.1 489.5,330.7 490.0,331.5 489.7,332.7 491.8,331.5 491.3,330.5 491.8,328.8 491.7,326.8 492.8,325.2 492.8,324.8 493.8,325.2 494.4,323.1 493.4,321.4 493.4,322.0 494.0,322.9 493.6,318.6 493.8,320.5 493.7,317.8 494.8,315.7 493.9,316.1 494.5,314.3 495.3,316.2 493.7,316.1 494.6,313.3 494.6,312.6 495.0,313.4 495.7,310.3 494.1,309.8 495.8,309.4 494.5,308.6 494.3,308.5 494.6,307.6 494.7,306.7 494.9,302.7 495.8,303.4 495.5,302.5 496.4,301.5 495.4,305.8 495.5,303.2 496.6,308.2 495.3,305.6 495.6,310.0 496.8,309.7 496.6,311.2 496.7,311.1 496.9,310.4 495.6,311.2 497.2,314.5 496.6,315.4 496.5,313.4 496.6,314.7 496.0,316.6 497.2,318.1 496.1,319.7 497.6,321.6 497.7,320.0 496.8,320.1 496.3,323.9 496.2,322.9 496.9,323.0 497.4,326.6 497.8,324.3 497.0,328.1 497.9,326.4 497.5,329.5 497.3,326.6 498.5,326.2 496.9,324.0 497.7,323.7 497.1,326.2 498.0,324.6 498.9,324.1 497.7,322.4 497.3,322.3 498.1,321.8 499.0,317.7 498.2,317.8 498.4,316.0 498.6,314.9 498.2,314.8 498.1,312.0 499.2,314.5 498.3,314.2 499.7,313.3 499.9,309.8 499.7,311.7 499.9,308.9 498.6,306.2 499.7,305.2 498.9,307.9 499.5,304.4 500.3,305.8 498.9,301.6 499.4,301.4 499.3,299.3 499.2,302.1 500.5,299.5 499.9,299.8 500.2,296.3 500.3,296.4 500.5,295.3 499.7,297.4 501.4,293.2 501.3,293.5 501.8,290.8 501.6,289.6 501.5,289.8 501.2,290.5 502.2,290.1 502.1,287.0 501.0,287.8 500.9,285.2 501.4,287.3 501.2,283.9 502.1,285.0 502.6,281.5 502.7,282.1 502.1,281.9 503.1,279.5 501.7,277.8 502.9,279.9 502.8,279.3 502.6,278.7 503.1,273.7 502.8,273.6 502.7,273.2 503.3,273.0 504.0,270.1 503.8,270.4 502.8,269.5 503.1,268.5 504.0,267.5 503.8,267.8 504.3,265.2 503.6,266.2 503.6,265.1 504.2,264.6 505.7,263.3 505.2,263.0 504.9,261.4 504.8,260.1 506.6,259.3 506.5,258.4 506.2,258.2 505.7,258.7 506.5,261.4 505.8,259.8 507.4,262.0 506.3,262.0 506.4,263.7 506.7,263.0 507.5,264.6 506.8,265.6 507.0,265.1 508.5,267.2 508.4,268.7 507.0,267.1 507.5,269.9 508.5,269.9 508.9,269.7 508.5,272.0 507.7,271.2 507.8,274.9 508.8,275.2 508.4,273.3 509.5,275.2 508.7,271.5 508.3,270.5 509.3,272.6 509.0,270.6 509.4,267.5 509.9,266.8 510.1,269.0 508.9,264.9 509.3,266.8 509.8,264.6 509.4,262.2 508.7,260.7 510.0,263.8 509.1,261.3 510.5,259.0 510.0,261.2 509.6,260.0 510.3,258.8 510.7,255.1 509.6,253.3 510.8,254.6 509.4,253.1 510.5,253.8 510.6,250.3 510.1,250.6 510.9,252.1 510.8,251.4 510.2,247.9 510.5,246.9 510.7,244.7 511.0,244.2 511.1,243.5 511.2,245.7 511.5,243.7 510.9,241.2 511.4,242.1 511.7,241.1 511.3,239.2 512.5,237.3 511.5,236.4 512.2,238.5 511.8,238.0 512.3,234.0 512.4,232.2 512.0,233.0 511.7,234.1 512.3,232.8 512.4,230.6 511.1,228.5 512.3,229.7 510.9,227.5 511.3,226.7 511.2,224.2 511.6,225.6 511.3,225.6 511.4,223.9 511.2,221.6 511.5,222.7 512.2,221.5 512.2,220.1 511.2,219.8 511.9,219.3 511.2,218.6 512.2,214.3 512.8,214.6 511.9,213.7 512.1,212.9 512.8,211.5 512.8,210.8 511.7,213.1 512.8,211.5 512.9,207.1 511.8,207.8 511.5,208.7 512.1,205.7 511.8,207.9 513.3,205.7 514.3,204.0 513.4,205.1 515.4,203.5 514.6,201.8 515.8,201.7 515.7,200.4 515.5,203.4 516.8,204.7 516.4,205.1 515.6,204.8 516.1,206.9 516.0,208.6 516.9,208.7 516.2,211.0 516.5,212.4 517.8,213.5 518.1,214.2 517.3,211.6 517.3,214.8 518.4,216.0 517.6,214.9 517.7,218.7 518.6,216.1 518.3,218.5 517.6,220.1 519.0,220.9 518.3,221.3 518.7,223.6 518.1,223.2 519.4,225.0 518.6,222.9 518.4,226.6 518.4,228.4 519.1,226.6 520.0,227.0 519.1,229.5 519.9,230.8 519.5,231.3 519.9,231.0 519.3,229.1 520.1,226.9 520.7,227.1 520.5,225.8 519.5,225.6 520.4,224.5 520.0,224.9 519.8,222.0 520.8,222.7 520.6,223.2 521.2,219.8 521.2,220.3 521.5,216.9 521.3,217.4 520.2,215.1 520.4,214.0 522.0,213.4 520.6,214.5 521.4,215.6 521.9,213.4 522.3,211.0 521.6,212.8 521.8,209.2 522.0,209.6 521.4,209.9 522.5,208.6 522.8,210.1 521.9,213.0 522.9,211.6 523.5,212.9 522.5,215.3 523.1,217.5 523.5,217.8 522.3,217.7 524.1,217.4 522.5,220.3 522.8,219.1 523.9,220.5 523.8,224.3 524.6,223.3 524.6,222.6 523.6,225.7 523.6,227.2 524.2,227.3 525.2,226.1 524.5,228.2 524.8,227.2 523.9,225.9 524.4,225.2 524.8,226.5 524.1,226.1 525.7,224.8 524.5,224.6 525.4,219.8 525.2,220.4 525.8,218.1 525.9,218.5 524.7,215.9 524.9,217.0 526.0,215.0 526.0,215.6 525.8,214.6 524.7,214.2 525.8,213.6 525.4,212.8 526.1,209.0 524.7,212.1 525.4,207.2 525.5,209.3 526.3,208.8 525.7,206.7 526.1,207.9 525.4,207.8 525.7,211.0 526.3,211.6 526.9,212.1 527.1,213.6 527.2,212.1 527.0,215.4 527.8,213.4 526.8,216.9 527.7,215.6 527.1,218.1 528.3,220.1 528.1,220.0 527.3,220.6 528.2,222.4 527.7,223.7 528.4,224.8 528.2,224.2 528.4,224.5 529.5,223.6 529.3,223.4 529.0,218.6 529.1,218.3 530.2,218.3 529.6,220.2 530.8,219.2 531.6,217.7 531.6,214.9 531.3,215.8 531.9,214.6 531.2,214.7 532.2,213.7 531.8,213.2 532.8,211.8 533.0,208.4 533.1,210.0 534.2,207.4 533.2,208.2 533.8,205.9 533.6,203.5 534.4,203.3 534.5,201.7 535.3,201.2 534.7,199.6 535.6,202.5 536.3,198.2 535.6,196.6 536.1,196.3 537.3,196.8 537.5,196.1 536.2,197.2 537.9,192.6 537.5,192.6 537.7,193.3 538.1,192.3 537.8,188.7 538.0,188.0 537.7,191.2 538.2,188.4 538.2,188.4 539.0,187.5 538.4,187.6 540.0,184.8 539.3,183.9 540.2,184.8 539.5,183.3 539.5,180.4 539.3,182.4 540.4,177.8 541.2,180.2 541.1,178.2 540.6,176.6 541.3,176.0 541.3,173.7 540.3,173.9 541.8,172.8 541.9,173.8 541.5,172.7 541.7,170.0 541.8,169.7 542.6,170.8 541.8,166.7 542.9,167.3 542.7,167.4 543.0,165.8 542.7,167.1 542.9,168.8 542.7,166.8 543.4,169.9 544.2,171.7 544.1,169.9 543.8,172.8 543.2,175.0 543.7,173.4 544.2,173.6 544.1,177.1 543.8,174.6 544.2,178.3 544.0,176.2 544.2,179.2 544.4,178.7 545.4,179.2 544.8,181.5 544.9,182.6 545.7,183.4 545.0,182.9 544.3,183.8 544.9,187.1 545.2,188.2 544.6,186.0 545.5,186.8 545.1,189.4 545.4,189.8 546.3,193.2 546.2,193.9 545.6,191.7 545.3,195.6 545.2,196.1 545.6,197.4 546.9,195.8 546.9,196.1 545.8,197.8 545.5,198.0 546.3,199.9 545.6,200.5 547.2,203.9 546.0,203.7 546.7,203.4 546.4,203.1 546.8,201.4 547.9,202.7 548.7,199.4 548.8,200.3 548.5,199.8 548.7,198.1 550.0,195.5 548.7,195.9 549.6,194.0 550.1,195.9 550.4,193.8 549.9,195.1 551.6,191.4 551.2,191.5 551.7,189.0 552.4,191.0 552.2,187.5 553.1,189.7 552.0,185.7 552.9,187.4 553.1,185.3 553.1,186.0 554.1,182.6 555.2,183.8 555.0,180.6 555.3,179.9 555.3,181.3 555.7,179.4 556.9,180.4 556.6,178.0 557.0,179.9 557.8,179.3 558.0,180.8 559.3,181.0 559.1,181.5 558.7,183.3 558.7,185.7 559.2,185.7 559.1,186.1 559.4,185.5 560.7,186.9 560.8,186.0 561.6,188.6 560.3,189.4 562.0,189.7 561.6,191.7 561.6,192.0 561.6,192.4 561.9,194.5 562.2,193.4 563.9,194.7 562.6,195.3 563.7,199.5 564.6,200.4 564.2,199.0 564.5,197.8 564.8,199.6 565.3,202.2 566.4,201.3 566.5,201.1 566.1,197.4 566.9,199.7 566.5,198.8 566.9,195.0 567.6,196.1 568.1,194.3 567.7,194.8 568.6,194.4 567.8,194.6 568.8,191.0 569.7,190.5 569.5,189.7 569.4,187.1 570.3,188.3 570.1,186.3 571.4,186.0 571.6,184.4 571.9,183.8 571.5,185.2 573.0,183.8 573.8,184.2 572.3,180.2 573.5,181.4 573.9,181.7 573.2,180.4 573.8,178.0 573.8,175.9 574.7,178.4 575.2,176.1 575.9,177.7 576.0,176.5 576.5,178.1 576.6,180.0 575.7,182.1 575.3,180.4 576.5,183.4 576.7,181.4 577.4,185.7 576.5,186.8 576.1,184.5 576.7,184.9 576.4,187.9 577.7,190.2 577.6,189.8 577.9,189.2 577.4,192.8 577.7,190.0 577.9,191.5 578.1,191.6 578.6,194.3 579.2,195.3 579.6,197.3 580.4,199.4 579.9,200.0 580.1,198.6 580.3,198.0 581.2,197.4 581.4,197.2 581.1,194.0 580.1,193.6 580.9,191.6 581.0,191.5 580.7,190.0 582.1,190.0 582.3,190.2 582.1,191.2 581.7,188.9 582.9,186.9 582.6,187.2 582.3,184.3 583.0,184.9 584.1,184.7 582.9,182.3 583.6,180.8 583.5,181.2 584.2,182.4 584.3,179.0 585.0,179.3"/>
<g stroke="#1a1a1a" stroke-width="2.2" fill="none">
<path d="M96.2 120.9V351.2"/>
<path d="M586.3 120.9V351.2"/>
<path d="M95.2 350.2H587.3"/>
</g>
<g stroke="#151515" stroke-width="1.7" fill="none">
<path d="M91.7 121.9H96.2"/>
<path d="M91.7 150.4H96.2"/>
<path d="M91.7 179.0H96.2"/>
<path d="M91.7 207.5H96.2"/>
<path d="M91.7 236.1H96.2"/>
<path d="M91.7 264.6H96.2"/>
<path d="M91.7 293.1H96.2"/>
<path d="M91.7 321.7H96.2"/>
<path d="M91.7 350.2H96.2"/>
<path d="M586.3 121.9H590.8"/>
<path d="M586.3 144.7H590.8"/>
<path d="M586.3 167.6H590.8"/>
<path d="M586.3 190.4H590.8"/>
<path d="M586.3 213.2H590.8"/>
<path d="M586.3 236.1H590.8"/>
<path d="M586.3 258.9H590.8"/>
<path d="M586.3 281.7H590.8"/>
<path d="M586.3 304.5H590.8"/>
<path d="M586.3 327.4H590.8"/>
<path d="M586.3 350.2H590.8"/>
<path d="M96.2 350.2V353.7"/>
<path d="M122.0 350.2V353.7"/>
<path d="M147.8 350.2V353.7"/>
<path d="M173.6 350.2V353.7"/>
<path d="M199.4 350.2V353.7"/>
<path d="M225.2 350.2V353.7"/>
<path d="M251.0 350.2V353.7"/>
<path d="M276.8 350.2V353.7"/>
<path d="M302.6 350.2V353.7"/>
<path d="M328.4 350.2V353.7"/>
<path d="M354.1 350.2V353.7"/>
<path d="M379.9 350.2V353.7"/>
<path d="M405.7 350.2V353.7"/>
<path d="M431.5 350.2V353.7"/>
<path d="M457.3 350.2V353.7"/>
<path d="M483.1 350.2V353.7"/>
<path d="M508.9 350.2V353.7"/>
<path d="M534.7 350.2V353.7"/>
<path d="M560.5 350.2V353.7"/>
<path d="M586.3 350.2V353.7"/>
</g>
<g font-family="'Liberation Sans', sans-serif" font-size="11.5" fill="#111">
<text transform="translate(80.3 126.3) scale(1 1.09)" font-size="11.2" text-anchor="end">4,000</text>
<text transform="translate(80.3 154.8) scale(1 1.09)" font-size="11.2" text-anchor="end">3,500</text>
<text transform="translate(80.3 183.4) scale(1 1.09)" font-size="11.2" text-anchor="end">3,000</text>
<text transform="translate(80.3 211.9) scale(1 1.09)" font-size="11.2" text-anchor="end">2,500</text>
<text transform="translate(80.3 240.5) scale(1 1.09)" font-size="11.2" text-anchor="end">2,000</text>
<text transform="translate(80.3 269.0) scale(1 1.09)" font-size="11.2" text-anchor="end">1,500</text>
<text transform="translate(80.3 297.5) scale(1 1.09)" font-size="11.2" text-anchor="end">1,000</text>
<text transform="translate(80.3 326.1) scale(1 1.09)" font-size="11.2" text-anchor="end">500</text>
<text transform="translate(80.3 354.6) scale(1 1.09)" font-size="11.2" text-anchor="end">0</text>
<text transform="translate(599 126.3) scale(1 1.09)" font-size="11.2">3.50</text>
<text transform="translate(599 149.1) scale(1 1.09)" font-size="11.2">3.00</text>
<text transform="translate(599 172.0) scale(1 1.09)" font-size="11.2">2.50</text>
<text transform="translate(599 194.8) scale(1 1.09)" font-size="11.2">2.00</text>
<text transform="translate(599 217.6) scale(1 1.09)" font-size="11.2">1.50</text>
<text transform="translate(599 240.5) scale(1 1.09)" font-size="11.2">1.00</text>
<text transform="translate(599 263.3) scale(1 1.09)" font-size="11.2">0.50</text>
<text transform="translate(599 286.1) scale(1 1.09)" font-size="11.2">0.00</text>
<text transform="translate(599 308.9) scale(1 1.09)" font-size="11.2">-0.50</text>
<text transform="translate(599 331.8) scale(1 1.09)" font-size="11.2">-1.00</text>
<text transform="translate(599 354.6) scale(1 1.09)" font-size="11.2">-1.50</text>
<text transform="translate(99.5 404.2) rotate(-90)" font-size="11.5" letter-spacing="0.2" stroke="#111" stroke-width="0.25">2006-06</text>
<text transform="translate(125.3 404.2) rotate(-90)" font-size="11.5" letter-spacing="0.2" stroke="#111" stroke-width="0.25">2007-06</text>
<text transform="translate(151.1 404.2) rotate(-90)" font-size="11.5" letter-spacing="0.2" stroke="#111" stroke-width="0.25">2008-06</text>
<text transform="translate(176.9 404.2) rotate(-90)" font-size="11.5" letter-spacing="0.2" stroke="#111" stroke-width="0.25">2009-06</text>
<text transform="translate(202.7 404.2) rotate(-90)" font-size="11.5" letter-spacing="0.2" stroke="#111" stroke-width="0.25">2010-06</text>
<text transform="translate(228.5 404.2) rotate(-90)" font-size="11.5" letter-spacing="0.2" stroke="#111" stroke-width="0.25">2011-06</text>
<text transform="translate(254.3 404.2) rotate(-90)" font-size="11.5" letter-spacing="0.2" stroke="#111" stroke-width="0.25">2012-06</text>
<text transform="translate(280.1 404.2) rotate(-90)" font-size="11.5" letter-spacing="0.2" stroke="#111" stroke-width="0.25">2013-06</text>
<text transform="translate(305.9 404.2) rotate(-90)" font-size="11.5" letter-spacing="0.2" stroke="#111" stroke-width="0.25">2014-06</text>
<text transform="translate(331.7 404.2) rotate(-90)" font-size="11.5" letter-spacing="0.2" stroke="#111" stroke-width="0.25">2015-06</text>
<text transform="translate(357.4 404.2) rotate(-90)" font-size="11.5" letter-spacing="0.2" stroke="#111" stroke-width="0.25">2016-06</text>
<text transform="translate(383.2 404.2) rotate(-90)" font-size="11.5" letter-spacing="0.2" stroke="#111" stroke-width="0.25">2017-06</text>
<text transform="translate(409.0 404.2) rotate(-90)" font-size="11.5" letter-spacing="0.2" stroke="#111" stroke-width="0.25">2018-06</text>
<text transform="translate(434.8 404.2) rotate(-90)" font-size="11.5" letter-spacing="0.2" stroke="#111" stroke-width="0.25">2019-06</text>
<text transform="translate(460.6 404.2) rotate(-90)" font-size="11.5" letter-spacing="0.2" stroke="#111" stroke-width="0.25">2020-06</text>
<text transform="translate(486.4 404.2) rotate(-90)" font-size="11.5" letter-spacing="0.2" stroke="#111" stroke-width="0.25">2021-06</text>
<text transform="translate(512.2 404.2) rotate(-90)" font-size="11.5" letter-spacing="0.2" stroke="#111" stroke-width="0.25">2022-06</text>
<text transform="translate(538.0 404.2) rotate(-90)" font-size="11.5" letter-spacing="0.2" stroke="#111" stroke-width="0.25">2023-06</text>
<text transform="translate(563.8 404.2) rotate(-90)" font-size="11.5" letter-spacing="0.2" stroke="#111" stroke-width="0.25">2024-06</text>
<text transform="translate(589.6 404.2) rotate(-90)" font-size="11.5" letter-spacing="0.2" stroke="#111" stroke-width="0.25">2025-06</text>
</g>
<path d="M137 426.8H176.5" stroke="#48637f" stroke-width="2.2"/>
<path d="M355 426.8H394.5" stroke="#a9a9a9" stroke-width="2.2"/>
</svg>
<div class="leg"><span class="m" style="left:180px">Comex</span><span style="left:212px">黄金</span><span style="left:236px">（</span><span style="left:252.5px">美元</span><span class="m" style="left:279.5px">/</span><span style="left:287.5px">盎司</span><span style="left:315px">）</span></div>
<div class="leg"><span style="left:397.5px;letter-spacing:0.2px">美债实际收益率</span><span style="left:484px">（</span><span class="m" style="left:502.5px">%,</span><span style="left:516px">右轴</span><span style="left:543px">）</span></div>
<div class="rule r2"></div>
<div class="src"><span class="c" style="left:38.5px">数据来源：</span><span style="left:167px;font-size:24px">Wind</span><span class="c" style="left:221px">，</span><span class="c" style="left:247.5px">东吴证券研究所</span></div>
<div class="knob"></div>
</body>
</html>
